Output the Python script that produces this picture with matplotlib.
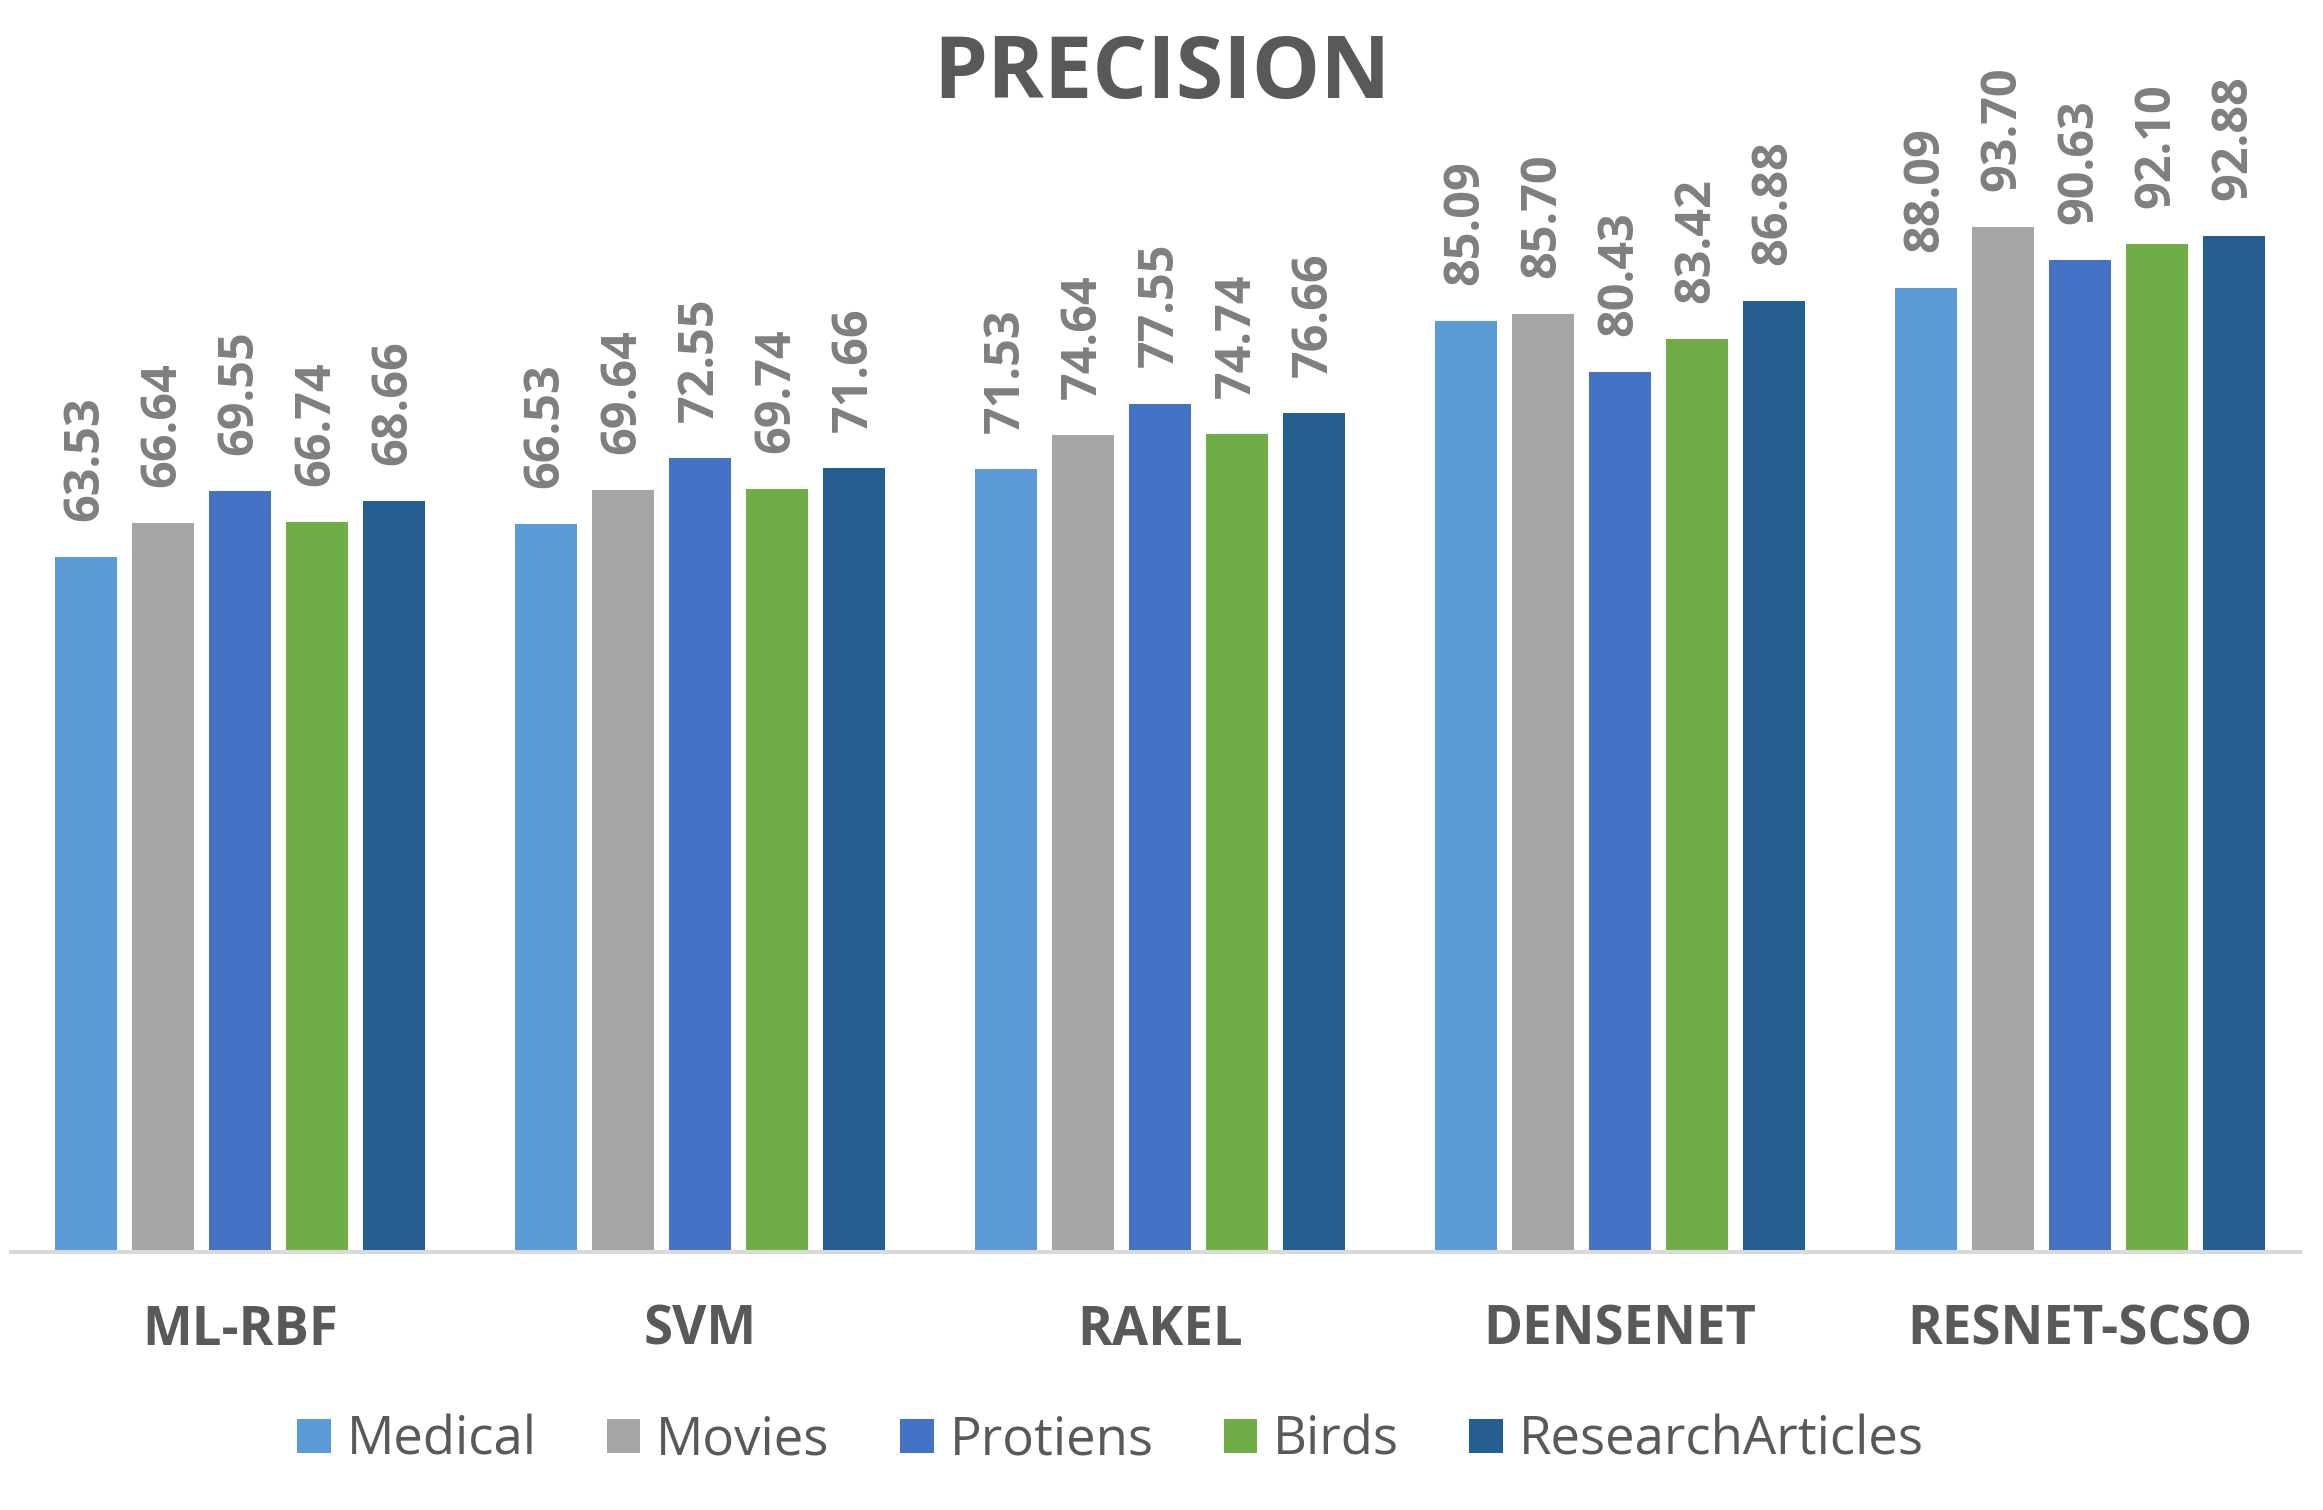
import matplotlib.pyplot as plt
import matplotlib.transforms as mtransforms
from matplotlib.patches import Patch
import numpy as np

plt.rcParams['font.family'] = ['Open Sans', 'DejaVu Sans']

categories = ["ML-RBF", "SVM", "RAKEL", "DENSENET", "RESNET-SCSO"]
series = ["Medical", "Movies", "Protiens", "Birds", "ResearchArticles"]
colors = ["#5B9BD5", "#A5A5A5", "#4472C4", "#70AD47", "#255E91"]

medical = [63.53, 66.53, 71.53, 85.09, 88.09]
movies = [66.64, 69.64, 74.64, 85.70, 93.70]
protiens = [69.55, 72.55, 77.55, 80.43, 90.63]
birds = [66.74, 69.74, 74.74, 83.42, 92.10]
research = [68.66, 71.66, 76.66, 86.88, 92.88]
values = [medical, movies, protiens, birds, research]

fig = plt.figure(figsize=(23.23, 15.10), dpi=100)
ax = fig.add_axes([0.00474, 0.1709, 0.9854, 0.7245])

x = np.arange(len(categories))
pitch = 0.1674
width = 0.135

for j, (name, vals, c) in enumerate(zip(series, values, colors)):
    pos = x + (j - 2) * pitch
    ax.bar(pos, vals, width, color=c, label=name, zorder=2)
    for xi, v in zip(pos, vals):
        ax.annotate(f"{v:.2f}", (xi, v), xytext=(0, 26), textcoords="offset points",
                    rotation=90, ha="center", va="bottom", fontsize=35,
                    fontweight="bold", color="#7F7F7F")

ax.set_xlim(-0.498, 4.478)
ax.set_ylim(0, 100)
for s in ["top", "left", "right"]:
    ax.spines[s].set_visible(False)
ax.spines["bottom"].set_color("#D9D9D9")
ax.spines["bottom"].set_linewidth(2.9)
ax.spines["bottom"].set_zorder(3)
ax.set_xticks([])
ax.set_yticks([])

# category labels
trans = mtransforms.blended_transform_factory(ax.transData, fig.transFigure)
for xi, cat in zip(x, categories):
    ax.text(xi, 0.1093, cat, transform=trans, ha="center", va="baseline",
            fontsize=38, fontweight="bold", color="#595959")

fig.text(0.5, 0.935, "PRECISION", ha="center", va="baseline",
         fontsize=62, fontweight="bold", color="#595959")

handles = [Patch(facecolor=c, label=n) for n, c in zip(series, colors)]
leg = fig.legend(handles=handles, loc="center", bbox_to_anchor=(0.478, 0.0457),
                 ncol=5, frameon=False, fontsize=38, handlelength=0.64,
                 handleheight=0.63, handletextpad=0.3, columnspacing=1.33)
for t in leg.get_texts():
    t.set_color("#595959")

fig.savefig("out.png", dpi=100)
